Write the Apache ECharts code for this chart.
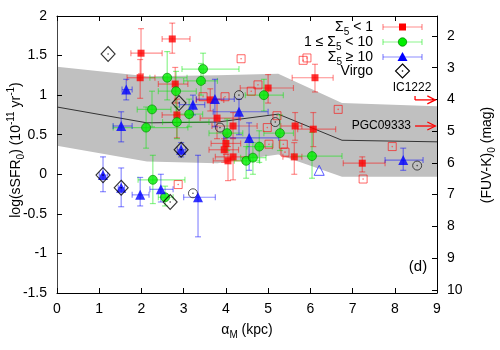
<!DOCTYPE html>
<html><head><meta charset="utf-8">
<script src="https://cdn.jsdelivr.net/npm/echarts@6/dist/echarts.min.js"></script>
<style>html,body{margin:0;padding:0;background:#fff}#c{width:500px;height:350px}</style>
</head><body><div id="c"></div>
<script>
// ---- band (model envelope) ----
const bandX      = [0,    2.13, 3.8,  5.24, 6.75, 9];
const bandUpper  = [1.36, 1.24, 1.25, 1.27, 0.90, 0.86];
const bandLower  = [0.36, 0.16, 0.14, 0.25, -0.03, -0.03];
const bandCenter = [0.85, 0.65, 0.66, 0.76, 0.43, 0.41];

// ---- points: [x, y, xlo, xhi, ylo, yhi] ----
const redPts = [
  [2.73,1.71,2.49,3.15,1.53,1.91],
  [1.99,1.53,1.75,2.49,1.27,1.84],
  [1.97,1.22,1.66,2.32,0.96,1.45],
  [2.80,1.14,2.40,3.10,0.90,1.35],
  [3.79,0.71,3.39,4.34,0.45,0.95],
  [4.17,0.61,3.67,4.74,0.46,0.78],
  [5.64,0.61,5.30,5.80,0.43,0.78],
  [6.07,0.57,5.70,6.60,0.35,0.78],
  [4.00,0.39,3.65,4.35,0.25,0.50],
  [3.96,0.31,3.60,4.30,0.15,0.45],
  [4.17,0.22,3.75,4.55,-0.07,0.45],
  [4.05,0.17,3.70,4.40,-0.08,0.35],
  [5.62,0.22,5.35,5.80,0.00,0.40],
  [7.23,0.14,6.78,7.77,0.03,0.22],
  [6.11,1.22,5.57,6.54,1.04,1.39],
  [2.84,0.75,2.49,3.20,0.46,0.95],
  [3.63,0.94,3.30,3.95,0.80,1.08],
  [5.00,1.09,4.34,5.60,0.90,1.26]
];
const greenPts = [
  [2.61,1.22,2.20,3.08,0.94,1.55],
  [3.46,1.33,2.96,4.31,1.15,1.53],
  [3.41,1.18,3.00,3.80,1.00,1.40],
  [2.82,1.05,2.40,3.30,0.75,1.30],
  [2.25,0.82,1.90,2.70,0.60,1.05],
  [3.13,0.76,2.85,3.45,0.60,0.95],
  [2.84,0.66,2.50,3.60,0.45,0.85],
  [2.11,0.59,1.33,3.10,0.33,0.85],
  [4.03,0.52,3.60,4.40,0.30,0.70],
  [5.28,0.52,4.90,5.60,0.30,0.75],
  [4.90,1.00,4.46,5.36,0.80,1.20],
  [4.79,0.35,4.50,5.10,0.15,0.55],
  [4.48,0.17,4.20,4.80,-0.05,0.35],
  [4.64,0.21,4.35,4.95,0.00,0.40],
  [6.04,0.23,5.60,6.75,-0.05,0.53],
  [2.27,-0.07,1.92,3.03,-0.37,0.24],
  [2.56,-0.29,2.40,2.75,-0.40,-0.15]
];
const bluePts = [
  [1.64,1.07,1.54,1.78,0.94,1.20],
  [3.22,0.88,2.90,3.50,0.75,1.00],
  [3.74,0.95,3.30,4.20,0.60,1.20],
  [4.31,0.79,3.70,5.00,0.50,0.95],
  [4.55,0.46,3.95,5.25,0.05,0.65],
  [1.52,0.61,1.33,1.78,0.41,0.79],
  [2.94,0.31,2.85,3.05,0.22,0.40],
  [1.09,-0.01,1.00,1.20,-0.22,0.22],
  [1.52,-0.17,1.45,1.60,-0.41,0.08],
  [1.97,-0.26,1.78,2.18,-0.40,-0.04],
  [2.46,-0.19,2.20,2.75,-0.35,0.00],
  [3.34,-0.29,3.00,3.75,-0.79,0.24],
  [8.20,0.18,7.77,8.67,0.05,0.33]
];
const redOpen = [[4.36,1.46],[5.83,1.44],[5.92,1.47],[3.98,0.98],[3.46,0.98],[4.60,1.05],[4.76,1.13],
  [6.66,0.82],[4.98,0.59],[5.21,0.74],[5.02,0.38],[5.36,0.38],[5.40,0.28],[7.94,0.35],[7.25,-0.06],[2.87,-0.13]];
const blueOpen = [[6.21,0.05]];
const blackOpen = [[3.86,0.59],[4.31,1.00],[5.17,0.66],[3.22,-0.24],[8.53,0.11]];
const virgoPts = [[1.21,1.52],[2.89,0.90],[2.94,0.31],[1.09,-0.01],[1.52,-0.17],[2.68,-0.35]];
// arrows for off-scale galaxies: [xStart, xEnd, y, label]
const arrowPts = [[8.48,8.96,0.94,'IC1222'],[8.48,8.96,0.61,'PGC09333']];
const rightTicks = [2,3,4,5,6,7,8,9,10];

const F = '"Liberation Sans", Arial, sans-serif';
const chart = echarts.init(document.getElementById('c'));

function errSeries(data, color, z) {
  return {type:'custom', data, z, silent:true, clip:false,
    encode:{x:[0,2,3], y:[1,4,5]},
    renderItem(params, api){
      const x=api.value(0), y=api.value(1);
      const a=api.coord([api.value(2),y]), b=api.coord([api.value(3),y]);
      const c=api.coord([x,api.value(4)]), d=api.coord([x,api.value(5)]);
      const cap=3, st={stroke:color, lineWidth:1.2};
      const L=(x1,y1,x2,y2)=>({type:'line', shape:{x1,y1,x2,y2}, style:st});
      return {type:'group', children:[
        L(a[0],a[1],b[0],b[1]), L(a[0],a[1]-cap,a[0],a[1]+cap), L(b[0],b[1]-cap,b[0],b[1]+cap),
        L(c[0],c[1],d[0],d[1]), L(c[0]-cap,c[1],c[0]+cap,c[1]), L(d[0]-cap,d[1],d[0]+cap,d[1])
      ]};
    }};
}
function scat(data, symbol, size, style, z) {
  return {type:'scatter', data:data.map(p=>[p[0],p[1]]), symbol, symbolSize:size, itemStyle:style, z, silent:true};
}
function dots(data, color, z) {
  return {type:'scatter', data:data.map(p=>[p[0],p[1]]), symbol:'circle', symbolSize:1.6, itemStyle:{color}, z, silent:true};
}

const rich = {
  sub:{fontSize:10, verticalAlign:'bottom', fontFamily:F, fill:'#000'},
  sup:{fontSize:10, verticalAlign:'top', fontFamily:F, fill:'#000'}
};
function txt(x,y,text,opt) {
  return Object.assign({type:'text', x, y, z:100, style:Object.assign({text, font:'14px '+F, fill:'#000', rich, lineHeight:20}, opt.style||{})}, opt.el||{});
}

// legend
const legY = [27,42,57,71];
const legTexts = ['Σ{sub|5} < 1','1 ≤ Σ{sub|5} < 10','Σ{sub|5} ≥ 10','Virgo'];
const legCols = ['rgba(255,0,0,0.45)','rgba(0,230,0,0.45)','rgba(0,0,255,0.45)'];
const graphics = [];
legTexts.forEach((t,i)=>{
  graphics.push(txt(373, legY[i], t, {style:{align:'right', verticalAlign:'middle'}}));
});
for (let i=0;i<3;i++){
  const y=legY[i], st={stroke:legCols[i], lineWidth:1.2};
  graphics.push({type:'line', z:100, shape:{x1:383,y1:y,x2:422,y2:y}, style:st});
  graphics.push({type:'line', z:100, shape:{x1:383,y1:y-3,x2:383,y2:y+3}, style:st});
  graphics.push({type:'line', z:100, shape:{x1:422,y1:y-3,x2:422,y2:y+3}, style:st});
}
graphics.push({type:'rect', z:101, shape:{x:399,y:legY[0]-3.5,width:7,height:7}, style:{fill:'#ff0000'}});
graphics.push({type:'circle', z:101, shape:{cx:402.5,cy:legY[1],r:4.2}, style:{fill:'#00ee00', stroke:'#008800', lineWidth:0.8}});
graphics.push({type:'polygon', z:101, shape:{points:[[402.5,legY[2]-5],[397.5,legY[2]+4],[407.5,legY[2]+4]]}, style:{fill:'#0000ff'}});
graphics.push({type:'polygon', z:101, shape:{points:[[402.5,legY[3]-7],[409.5,legY[3]],[402.5,legY[3]+7],[395.5,legY[3]]]}, style:{fill:'none', stroke:'#000', lineWidth:1.1}});
graphics.push({type:'circle', z:101, shape:{cx:402.5,cy:legY[3],r:0.8}, style:{fill:'#000'}});

// axis titles and panel label
graphics.push(txt(16, 150, 'log(sSFR{sub|0}) (10{sup|-11} yr{sup|-1})', {style:{align:'center', verticalAlign:'middle'}, el:{rotation:Math.PI/2}}));
graphics.push(txt(487, 155, '(FUV-K){sub|0} (mag)', {style:{align:'center', verticalAlign:'middle'}, el:{rotation:Math.PI/2}}));
graphics.push(txt(247, 330, 'α{sub|M} (kpc)', {style:{align:'center', verticalAlign:'middle'}}));
graphics.push(txt(418, 267, '(d)', {style:{align:'center', verticalAlign:'middle', font:'15px '+F}}));

const axisCommon = {
  axisLine:{show:true, onZero:false, lineStyle:{color:'#000', width:1}},
  axisTick:{show:true, inside:true, length:5, lineStyle:{color:'#000'}},
  axisLabel:{color:'#000', fontSize:14, fontFamily:F},
  splitLine:{show:false}
};

chart.setOption({
  animation:false,
  grid:{left:57, right:63, top:16, bottom:57},
  xAxis:[
    Object.assign({}, axisCommon, {type:'value', min:0, max:9, interval:1, position:'bottom',
      axisLabel:{color:'#000', fontSize:14, fontFamily:F, margin:9}}),
    Object.assign({}, axisCommon, {type:'value', min:0, max:9, interval:1, position:'top', axisLabel:{show:false}})
  ],
  yAxis:[
    Object.assign({}, axisCommon, {type:'value', min:-1.5, max:2, interval:0.5, position:'left',
      axisLine:{show:true, onZero:false, lineStyle:{color:'#444', width:1}},
      axisLabel:{color:'#000', fontSize:14, fontFamily:F, margin:10}}),
    Object.assign({}, axisCommon, {type:'value', min:1.37, max:10.1, inverse:true, position:'right',
      axisTick:{show:true, inside:true, length:5, lineStyle:{color:'#000'}, customValues:rightTicks},
      axisLabel:{color:'#000', fontSize:14, fontFamily:F, margin:10, customValues:rightTicks}})
  ],
  graphic:graphics,
  series:[
    {type:'custom', data:[[0]], z:0, silent:true,
      renderItem(params, api){
        const pts=[];
        bandX.forEach((x,i)=>pts.push(api.coord([x,bandUpper[i]])));
        for (let i=bandX.length-1;i>=0;i--) pts.push(api.coord([bandX[i],bandLower[i]]));
        return {type:'polygon', shape:{points:pts}, style:{fill:'#c0c0c0'}};
      }},
    {type:'line', data:bandX.map((x,i)=>[x,bandCenter[i]]), symbol:'none', z:1, silent:true,
      lineStyle:{color:'#333', width:1}},
    errSeries(redPts, 'rgba(255,0,0,0.45)', 2),
    errSeries(greenPts, 'rgba(0,230,0,0.45)', 2),
    errSeries(bluePts, 'rgba(0,0,255,0.45)', 2),
    scat(redOpen, 'rect', 8, {color:'none', borderColor:'rgba(255,0,0,0.75)', borderWidth:1}, 3),
    dots(redOpen, '#ff4040', 3),
    scat(blueOpen, 'triangle', 10, {color:'none', borderColor:'#3030ff', borderWidth:1}, 3),
    scat(blackOpen, 'circle', 9, {color:'none', borderColor:'#222', borderWidth:1}, 3),
    dots(blackOpen, '#222', 3),
    scat(redPts, 'rect', 7, {color:'#ff0000'}, 4),
    scat(greenPts, 'circle', 9, {color:'#00ee00', borderColor:'#008800', borderWidth:0.8}, 4),
    scat(bluePts, 'triangle', 10, {color:'#0000ff'}, 4),
    scat(virgoPts, 'diamond', [14,15], {color:'none', borderColor:'#000', borderWidth:1.1}, 5),
    dots(virgoPts, '#000', 5),
    {type:'custom', data:arrowPts, z:6, silent:true, clip:false,
      encode:{x:[0,1], y:2},
      renderItem(params, api){
        const y=api.value(2);
        const a=api.coord([api.value(0),y]), b=api.coord([api.value(1),y]);
        const st={stroke:'#ff0000', lineWidth:1.3, fill:'none'};
        const label=arrowPts[params.dataIndex][3];
        const isTop = params.dataIndex===0;
        return {type:'group', children:[
          {type:'line', shape:{x1:a[0],y1:a[1],x2:b[0],y2:b[1]}, style:st},
          {type:'polyline', shape:{points:[[b[0]-8,b[1]-4],[b[0],b[1]],[b[0]-8,b[1]+4]]}, style:st},
          isTop ? {type:'line', shape:{x1:a[0],y1:a[1]-4,x2:a[0],y2:a[1]}, style:st} : {type:'line', shape:{x1:a[0],y1:a[1],x2:a[0],y2:a[1]}, style:st},
          {type:'text', x: isTop ? a[0]-3 : a[0]-4, y: isTop ? a[1]-12 : a[1],
            style:{text:label, font:'12px '+F, fill:'#000', align: isTop ? 'center' : 'right', verticalAlign:'middle'}}
        ]};
      }}
  ]
});
</script></body></html>
